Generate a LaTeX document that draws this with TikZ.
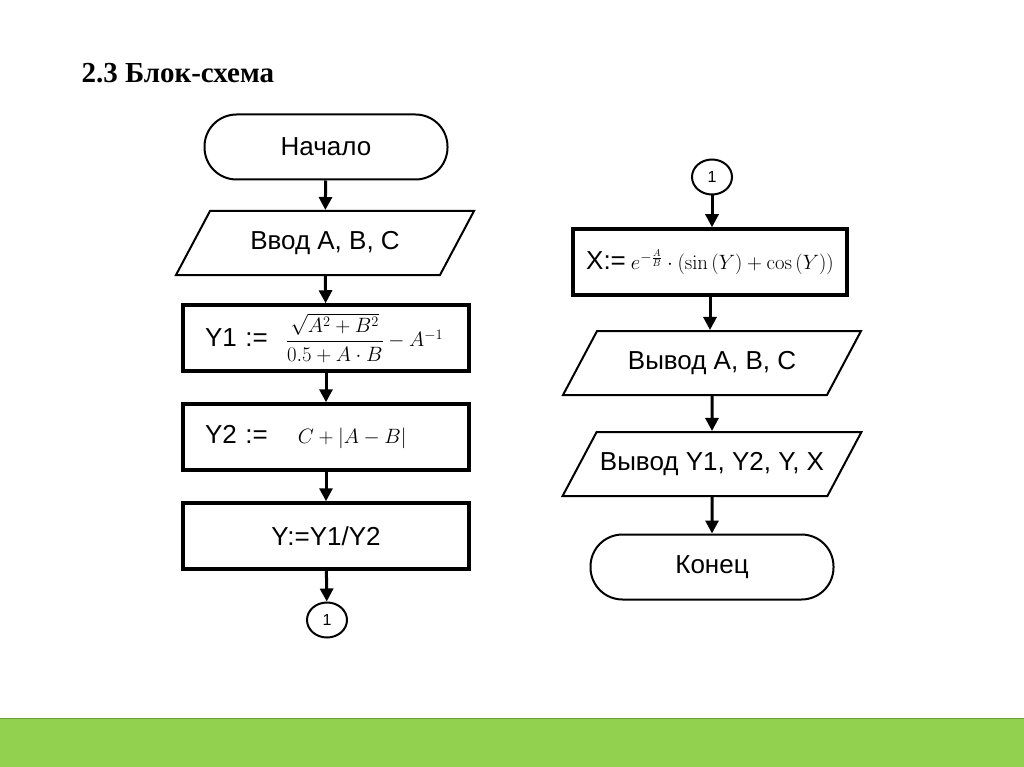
\documentclass[tikz,border=0pt]{standalone}
\usepackage{amsmath}
\usepackage[no-math]{fontspec}
\setmainfont{Liberation Sans}
\newfontfamily\titlefont{Liberation Serif}
\usetikzlibrary{arrows.meta, shapes.geometric}
\definecolor{barGreen}{HTML}{92D050}
\newcommand{\mathsz}{\fontsize{21}{25}\selectfont}
\tikzset{
    term/.style = {rectangle, draw, line width=2pt, rounded corners=32pt, minimum width=243pt, minimum height=65pt, font=\fontsize{26}{30}\selectfont},
    proc/.style = {rectangle, draw, line width=3.5pt, minimum width=286pt, minimum height=66pt, font=\fontsize{26}{30}\selectfont},
    io/.style = {trapezium, draw, line width=2pt, trapezium left angle=62, trapezium right angle=118, trapezium stretches body=true, text height=19pt, text depth=6pt, inner ysep=19.5pt, minimum width=298pt, font=\fontsize{26}{30}\selectfont},
    conn/.style = {ellipse, draw, line width=2pt, inner sep=0pt, minimum width=40pt, minimum height=35pt, font=\fontsize{16}{18}\selectfont},
    flow/.style = {-{Triangle[length=13pt, width=13pt]}, line width=3pt}
}

\begin{document}
\begin{tikzpicture}[x=1pt, y=-1pt]
\useasboundingbox (0,0) rectangle (1024,767);
\fill[white] (0,0) rectangle (1024,767);
\fill[barGreen] (0,718) rectangle (1024,767);
\draw[barGreen!75!black, line width=1pt] (0,718) -- (1024,718);

\node[anchor=west, font=\titlefont\bfseries\fontsize{29}{33}\selectfont] (title) at (78,73) {2.3 Блок-схема};

% Left column
\node[term] (start) at (326,147) {Начало};
\node[io] (inp) at (325,243) {Ввод A, B, C};
\node[proc, align=left, text width=242pt] (y1) at (326,338) {\mbox{Y1 :=\hspace{18pt}{\mathsz$\dfrac{\sqrt{A^2+B^2}}{0.5+A\cdot B}-A^{-1}$}}};
\node[proc, align=left, text width=242pt] (y2) at (326,437) {\mbox{Y2 :=\hspace{30pt}{\fontsize{20}{24}\selectfont$C+\left|A-B\right|$}}};
\node[proc] (y) at (326,536) {Y:=Y1/Y2};
\node[conn] (c1) at (327,620) {1};

% Right column
\node[conn] (c2) at (712,177) {1};
\node[proc, minimum width=274pt, inner sep=2pt] (x) at (710,262) {X:=\hspace{5pt}{\fontsize{20}{24}\selectfont$e^{-\frac{A}{B}}\cdot\left(\sin\left(Y\right)+\cos\left(Y\right)\right)$}};
\node[io] (out1) at (712,363) {Вывод A, B, C};
\node[io] (out2) at (712,464) {Вывод Y1, Y2, Y, X};
\node[term] (fin) at (712,567) {Конец};

% Arrows
\draw[flow] (start) -- (inp);
\draw[flow] (inp) -- (y1);
\draw[flow] (y1) -- (y2);
\draw[flow] (y2) -- (y);
\draw[flow] (y) -- (c1);

\draw[flow] (c2) -- (c2 |- x.north);
\draw[flow] (x.south) -- (out1.north -| x.south);
\draw[flow] (out1) -- (out2);
\draw[flow] (out2) -- (fin);
\end{tikzpicture}
\end{document}
